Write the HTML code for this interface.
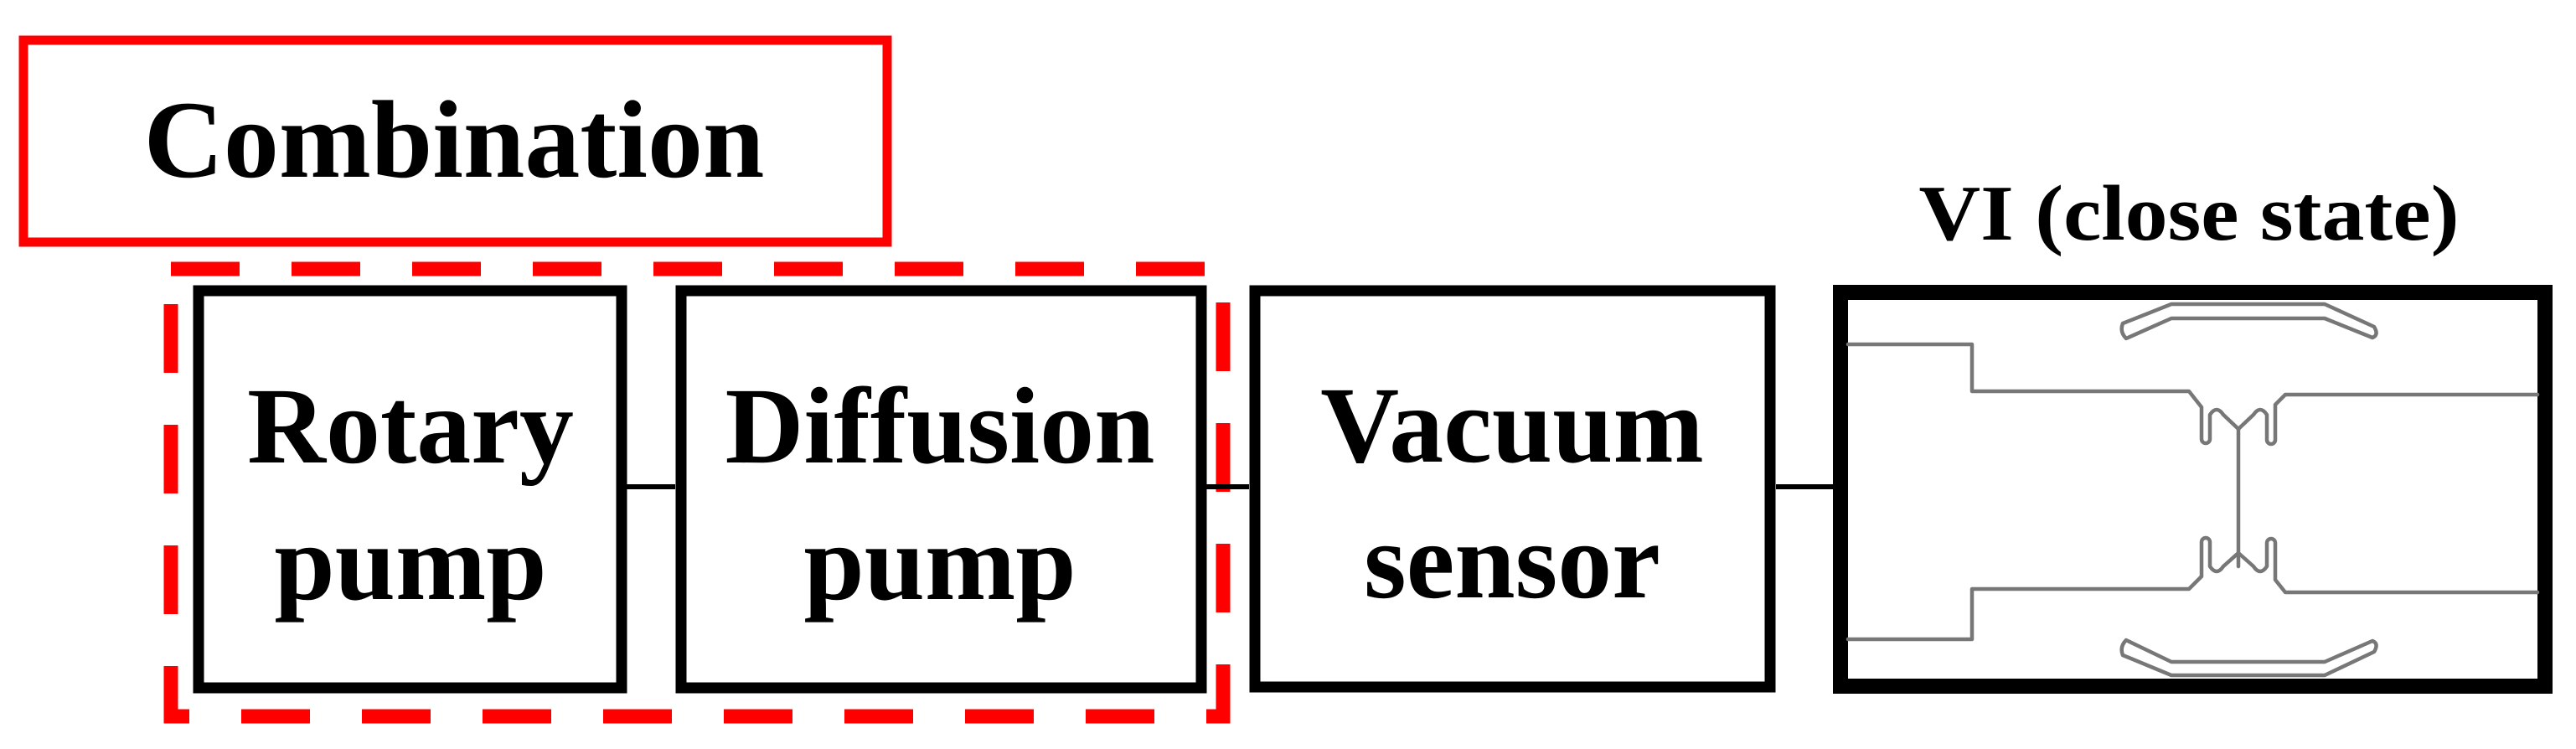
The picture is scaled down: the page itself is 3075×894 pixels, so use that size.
<!DOCTYPE html>
<html><head><meta charset="utf-8"><style>
html,body{margin:0;padding:0;background:#fff;}
svg{display:block;}
text{font-family:"Liberation Serif",serif;font-weight:bold;fill:#000;}
</style></head><body>
<svg width="3075" height="894" viewBox="0 0 3075 894" xmlns="http://www.w3.org/2000/svg">
<rect x="28" y="48" width="1031" height="241" fill="none" stroke="#f00" stroke-width="11"/>
<text x="542" y="211" font-size="132" text-anchor="middle">Combination</text>
<rect x="204" y="321" width="1256" height="534" fill="none" stroke="#f00" stroke-width="17" stroke-dasharray="82 62"/>
<line x1="748" y1="581" x2="806" y2="581" stroke="#000" stroke-width="6"/>
<line x1="1440" y1="581" x2="1491" y2="581" stroke="#000" stroke-width="6"/>
<line x1="2120" y1="581" x2="2188" y2="581" stroke="#000" stroke-width="6"/>
<rect x="237" y="347" width="505" height="474" fill="#fff" stroke="#000" stroke-width="13"/>
<rect x="813" y="347" width="621" height="474" fill="#fff" stroke="#000" stroke-width="13"/>
<rect x="1498" y="347" width="615" height="473" fill="#fff" stroke="#000" stroke-width="13"/>
<text x="490" y="552" font-size="130" text-anchor="middle">Rotary</text>
<text x="490" y="715" font-size="130" text-anchor="middle">pump</text>
<text x="1122" y="552" font-size="130" text-anchor="middle">Diffusion</text>
<text x="1122" y="715" font-size="130" text-anchor="middle">pump</text>
<text x="1805" y="551" font-size="130" text-anchor="middle">Vacuum</text>
<text x="1805" y="713" font-size="130" text-anchor="middle">sensor</text>
<text x="2613" y="286" font-size="94" text-anchor="middle" textLength="645" lengthAdjust="spacingAndGlyphs">VI (close state)</text>
<rect x="2197" y="349" width="841" height="470" fill="#fff" stroke="#000" stroke-width="18"/>
<g fill="none" stroke="#777" stroke-width="4.5" stroke-linejoin="round" stroke-linecap="round">
<path d="M2206 411 H2354 V467 H2613 L2628 486 V524 a5 5 0 0 0 10 0 V495 q8 -12 16 0 L2672 512 L2690 495 q8 -12 16 0 V525 a5 5 0 0 0 10 0 V483 L2728 471 H3029"/>
<path d="M2672 512 V676"/>
<path d="M2206 763 H2354 V703 H2613 L2628 688 V647 a5 5 0 0 1 10 0 V676 q8 12 16 0 L2672 660 L2690 676 q8 12 16 0 V648 a5 5 0 0 1 10 0 V692 L2728 707 H3029"/>
<path d="M2534 386 L2592 363 H2775 L2834 390 Q2840 400 2832 403 L2775 380 H2592 L2538 404 Q2530 396 2534 386 Z"/>
<path d="M2534 782 L2592 806 H2775 L2834 778 Q2840 768 2832 765 L2775 790 H2592 L2538 764 Q2530 772 2534 782 Z"/>
</g>
</svg>
</body></html>
